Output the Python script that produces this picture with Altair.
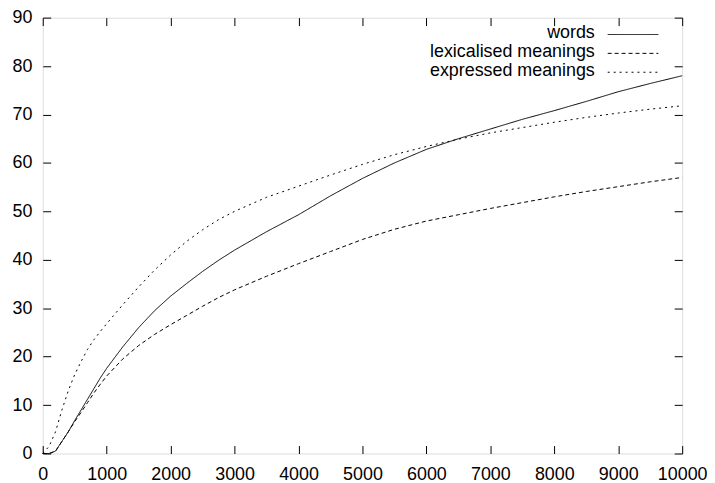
import altair as alt
import pandas as pd

x_vals = [0, 100, 200, 300, 400, 500, 600, 700, 800, 900, 1000, 1250, 1500, 1750, 2000,
          2250, 2500, 2750, 3000, 3500, 4000, 4500, 5000, 5500, 6000, 6500, 7000, 7500,
          8000, 8500, 9000, 9500, 10000]

words = [0, 0, 0.5, 2.5, 4.5, 6.8, 9, 11.2, 13.4, 15.6, 17.6, 22, 26, 29.5, 32.5,
         35.1, 37.6, 39.9, 42, 45.8, 49.3, 53.2, 56.8, 60, 62.8, 65, 67, 69,
         70.8, 72.7, 74.7, 76.4, 78]

lexicalised = [0, 0, 0.5, 2.5, 4.5, 6.6, 8.5, 10.5, 12.5, 14.3, 16, 19.5, 22.3, 24.6, 26.6,
               28.5, 30.4, 32.2, 33.8, 36.6, 39.2, 41.7, 44.2, 46.3, 48, 49.3, 50.6, 51.8,
               53, 54.1, 55.1, 56.1, 57]

expressed = [0, 1.5, 4.5, 9, 13, 16.3, 19, 21.5, 23.5, 25.2, 26.8, 30.7, 34.4, 37.9, 41,
             43.8, 46.2, 48.3, 50, 52.9, 55.2, 57.5, 59.7, 61.7, 63.4, 64.9, 66.2, 67.3,
             68.4, 69.4, 70.3, 71.1, 71.8]

series_names = ["words", "lexicalised meanings", "expressed meanings"]
series_values = [words, lexicalised, expressed]
dash_styles = [[1, 0], [4, 3], [2, 4]]

x_ticks = list(range(0, 10001, 1000))
y_ticks = list(range(0, 91, 10))

rows = []
for name, vals in zip(series_names, series_values):
    for xv, yv in zip(x_vals, vals):
        rows.append({"x": xv, "y": yv, "series": name})
df = pd.DataFrame(rows)

FONT = "Liberation Sans"

x_scale = alt.Scale(domain=[0, 10000], nice=False, zero=False)
y_scale = alt.Scale(domain=[0, 90], nice=False, zero=False)
dash_scale = alt.Scale(domain=series_names, range=dash_styles)

common_axis = dict(grid=False, domain=False, tickSize=8, tickColor="black",
                   tickWidth=1, offset=-8, labelFont=FONT, labelFontSize=18,
                   labelColor="black", title=None, format="d",
                   labelOverlap=False, labelFlush=False)

lines = alt.Chart(df).mark_line(color="black", strokeWidth=1).encode(
    x=alt.X("x:Q", scale=x_scale,
            axis=alt.Axis(orient="bottom", values=x_ticks, labelPadding=12,
                          labelAngle=0, **common_axis)),
    y=alt.Y("y:Q", scale=y_scale,
            axis=alt.Axis(orient="left", values=y_ticks, labelPadding=11,
                          **common_axis)),
    strokeDash=alt.StrokeDash("series:N", scale=dash_scale, legend=None),
    detail="series:N",
)

mirror = alt.Chart(df).mark_line(opacity=0).encode(
    x=alt.X("x:Q", scale=x_scale,
            axis=alt.Axis(orient="top", values=x_ticks, labels=False,
                          **common_axis)),
    y=alt.Y("y:Q", scale=y_scale,
            axis=alt.Axis(orient="right", values=y_ticks, labels=False,
                          **common_axis)),
    detail="series:N",
)

legend_layers = []
text_baselines = [21, 40, 59]
line_ys = [17, 36, 55]
for name, dash, tb, ly in zip(series_names, dash_styles, text_baselines, line_ys):
    lab = pd.DataFrame({"label": [name]})
    legend_layers.append(
        alt.Chart(lab).mark_text(align="right", baseline="alphabetic",
                                 font=FONT, fontSize=18, color="black").encode(
            text="label:N", x=alt.value(556), y=alt.value(tb))
    )
    legend_layers.append(
        alt.Chart(lab).mark_rule(color="black", strokeWidth=1,
                                 strokeDash=dash).encode(
            x=alt.value(569), x2=alt.value(620), y=alt.value(ly))
    )

chart = alt.layer(lines, mirror, *legend_layers).properties(
    width=644, height=439,
    autosize=alt.AutoSizeParams(type="none"),
    padding={"left": 35, "top": 8, "right": 25, "bottom": 28},
).configure_view(stroke="black", strokeWidth=1).configure(background="white")

chart.save("out.html", embed_options={"renderer": "svg", "actions": False})
